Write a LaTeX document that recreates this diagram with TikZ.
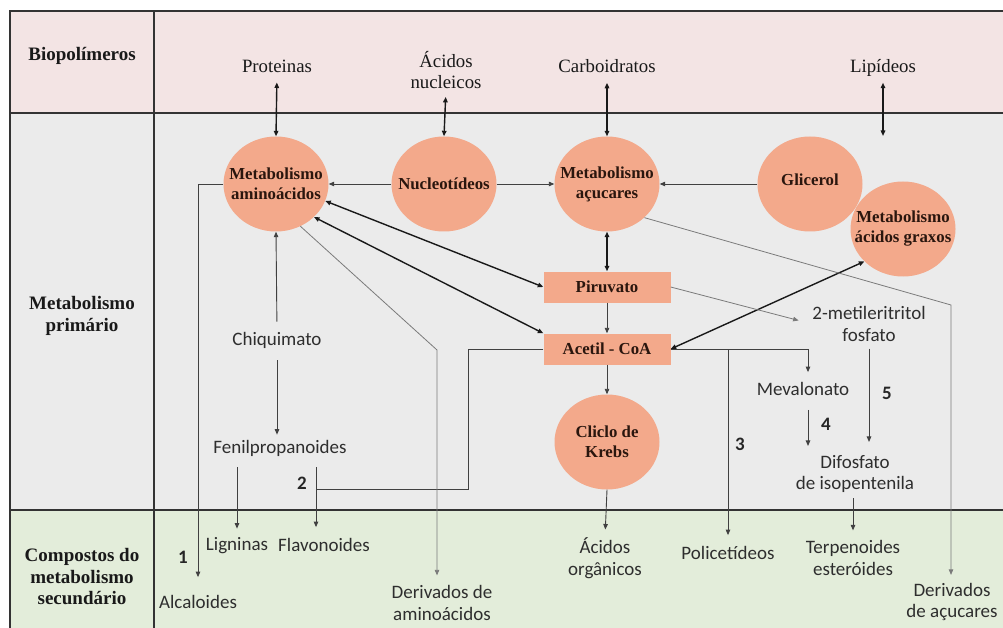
\documentclass[tikz,border=0pt]{standalone}
\usepackage{fontspec}
\setmainfont{Liberation Serif}
\newfontfamily\calfont{Carlito}
\usetikzlibrary{arrows.meta,shapes.geometric,calc}
\definecolor{pinkbg}{HTML}{F3E4E4}
\definecolor{graybg}{HTML}{EBEBEB}
\definecolor{greenbg}{HTML}{E3EDDA}
\definecolor{orng}{HTML}{F3A98B}
\definecolor{ntext}{HTML}{2A160E}
\definecolor{stext}{HTML}{2E2E2E}
\definecolor{lgray}{HTML}{7A7A7A}
\tikzset{
  tip/.tip={Triangle[length=5.5pt,width=4.5pt]},
  tbl/.style={line width=1.8pt, draw=black!80},
  thk/.style={line width=1.4pt, draw=black!90},
  med/.style={line width=0.9pt, draw=black!75},
  thn/.style={line width=0.8pt, draw=lgray},
  serif/.style={font=\fontsize{18.8}{21}\selectfont, align=center, inner sep=0pt, text=black!90},
  sans/.style={font=\calfont\fontsize{19}{21.5}\selectfont, align=center, inner sep=0pt, text=stext},
  num/.style={font=\calfont\bfseries\fontsize{19}{21}\selectfont, inner sep=0pt, text=black!85},
  head/.style={font=\bfseries\fontsize{19}{21.5}\selectfont, align=center, inner sep=0pt, text=black!90},
  circ/.style={ellipse, minimum width=105pt, minimum height=95pt, fill=orng,
    inner xsep=-16pt, inner ysep=-10pt,
    font=\bfseries\fontsize{16.8}{20}\selectfont, text=ntext, align=center},
  rbox/.style={rectangle, minimum width=127pt, minimum height=31pt, fill=orng, inner sep=0pt,
    font=\bfseries\fontsize{16.8}{19}\selectfont, text=ntext}
}
\begin{document}
\begin{tikzpicture}[x=1pt,y=-1pt]
\useasboundingbox (0,0) rectangle (1003,628);
\fill[white] (0,0) rectangle (1003,628);
\fill[pinkbg] (10,11) rectangle (1003,113);
\fill[graybg] (10,113) rectangle (1003,510);
\fill[greenbg] (10,510) rectangle (1003,628);
\draw[tbl] (1003,11) -- (10,11) -- (10,628);
\draw[tbl] (10,113) -- (1003,113);
\draw[tbl] (10,510) -- (1003,510);
\draw[tbl] (154,11) -- (154,628);

% row headers
\node[head] (h1) at (82,56) {Biopolímeros};
\node[head] (h2) at (82,316) {Metabolismo\\primário};
\node[head] (h3) at (82,577) {Compostos do\\metabolismo\\secundário};

% biopolymers
\node[serif] (p) at (277,66) {Proteinas};
\node[serif] (an) at (446,70) {Ácidos\\nucleicos};
\node[serif] (cb) at (607,66) {Carboidratos};
\node[serif] (lp) at (883,68) {Lipídeos};
\coordinate (lpend) at (883,136);

% circles
\node[circ] (ami) at (276,184) {Metabolismo\\aminoácidos};
\node[circ] (nuc) at (444,184) {Nucleotídeos};
\node[circ] (acu) at (607,184) {Metabolismo\\açucares};
\node[circ, text depth=9pt] (gli) at (810,184) {Glicerol};
\node[circ] (acg) at (903,229) {Metabolismo\\ácidos graxos};
\node[circ] (kre) at (607,442) {Cliclo de\\Krebs};

% boxes
\node[rbox] (pir) at (607,287) {Piruvato};
\node[rbox] (aco) at (607,349) {Acetil - CoA};

% intermediate texts
\node[sans] (chi) at (277,340) {Chiquimato};
\node[sans] (fen) at (280,448) {Fenilpropanoides};
\node[sans] (met) at (869,324) {2-metileritritol\\fosfato};
\node[sans] (mev) at (803,389) {Mevalonato};
\node[sans] (dif) at (855,474) {Difosfato\\de isopentenila};

% products
\node[sans] (alc) at (198,602) {Alcaloides};
\node[sans] (lig) at (237,546) {Ligninas};
\node[sans] (fla) at (324,545) {Flavonoides};
\node[sans] (dam) at (442,603) {Derivados de\\aminoácidos};
\node[sans] (aor) at (605,558) {Ácidos\\orgânicos};
\node[sans] (pol) at (728,553) {Policetídeos};
\node[sans] (ter) at (853,558) {Terpenoides\\esteróides};
\node[sans] (dac) at (952,602) {Derivados\\de açucares};

% numbers
\node[num] (n1) at (183,557) {1};
\node[num] (n2) at (302,483) {2};
\node[num] (n3) at (740,444) {3};
\node[num] (n4) at (826,424) {4};
\node[num] (n5) at (887,393) {5};

% junction coordinates
\coordinate (c2) at (468,489);
\coordinate (j2) at (316,489);
\coordinate (c3) at (437,350);
\coordinate (c4) at (951,305);
\coordinate (c5) at (808,349);
\coordinate (c6) at (728,349);

% top arrows
\draw[thk,{tip}-{tip},shorten <=10pt] (p.south) -- (ami.north);
\draw[thk,{tip}-{tip},shorten <=8pt] (an.south) -- (nuc.north);
\draw[thk,{tip}-{tip},shorten <=10pt] (cb.south) -- (acu.north);
\draw[thk,{tip}-{tip},shorten <=6pt] (lp.south) -- (lpend);

% horizontal circle links
\draw[med,-{tip}] (nuc.west) -- (ami.east);
\draw[med,-{tip}] (nuc.east) -- (acu.west);
\draw[med,-{tip}] (gli.west) -- (acu.east);

% aminoacids branches
\draw[med,-{tip},shorten >=18pt] (ami.west) -| (alc.north);
\draw[med,-{tip},shorten <=10pt] (chi.north) -- (ami.south);
\draw[med,-{tip},shorten <=12pt,shorten >=5pt] (chi.south -| p) -- (fen.north -| p);
\draw[med,-{tip},shorten <=11pt,shorten >=9pt] (fen.south -| lig) -- (lig.north);
\draw[med,-{tip},shorten <=11pt,shorten >=11pt] (fen.south -| j2) -- (fla.north -| j2);
\draw[med] (aco.west) -| (c2) -- (j2);
\draw[thn,-{tip},shorten >=10pt] (ami.-60) -- (c3) -- (c3 |- dam.north);

% thick diagonal links
\draw[thk,{tip}-{tip}] (ami.-19) -- (pir.west);
\draw[thk,{tip}-{tip}] (ami.-41) -- (aco.north west);
\draw[thk,{tip}-{tip}] (aco.east) -- (acg.220);

% central column
\draw[thk,{tip}-{tip}] (acu.south) -- (pir.north);
\draw[med,-{tip}] (pir.south) -- (aco.north);
\draw[med,-{tip}] (aco.south) -- (kre.north);
\draw[med,-{tip},shorten >=8pt] (kre.south) -- (aor.north);

% right side
\draw[thn,-{tip},shorten >=14pt] (pir.east) -- (met.west);
\draw[thn,-{tip},shorten >=8pt] (acu.-42) -- (c4) -- (c4 |- dac.north);
\draw[med,-{tip},shorten >=10pt] (aco.east) -- (c5) -- (c5 |- mev.north);
\draw[med,-{tip},shorten >=11pt] (c6) -- (c6 |- pol.north);
\draw[med,-{tip},shorten <=14pt,shorten >=9pt] (mev.south -| c5) -- (dif.north -| c5);
\draw[med,-{tip},shorten <=7pt,shorten >=13pt] (met.south) -- (met.south |- dif.north);
\draw[med,-{tip},shorten <=5pt,shorten >=10pt] (dif.south -| ter) -- (ter.north);
\end{tikzpicture}
\end{document}
